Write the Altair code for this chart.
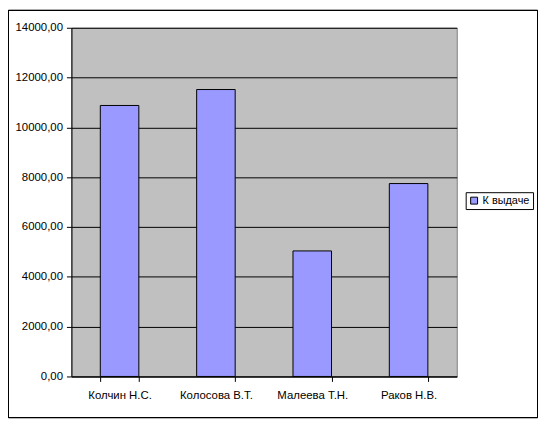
import altair as alt
import pandas as pd

names = ["Колчин Н.С.", "Колосова В.Т.", "Малеева Т.Н.", "Раков Н.В."]
values = [10880, 11520, 5040, 7745]
series = "К выдаче"

df = pd.DataFrame({"name": names, "value": values, "series": [series] * len(names)})

FONT = "Liberation Sans"
FS = 11.5

frame = alt.Chart(df).mark_rect(fill=None, stroke="black", strokeWidth=1, clip=False).encode(
    x=alt.value(-63.5), x2=alt.value(470.5), y=alt.value(-17.5), y2=alt.value(393.5)
)

bars = alt.Chart(df).mark_bar(stroke="black", strokeWidth=1).encode(
    x=alt.X("name:N", sort=names, title=None,
            scale=alt.Scale(paddingInner=0.6, paddingOuter=0.3),
            axis=alt.Axis(labelAngle=0, tickBand="extent", labelPadding=8, tickSize=5,
                          domainColor="black", tickColor="black", labelFont=FONT,
                          labelFontSize=FS, labelColor="black", grid=False)),
    y=alt.Y("value:Q", title=None,
            scale=alt.Scale(domain=[0, 14000], nice=False),
            axis=alt.Axis(values=list(range(0, 14001, 2000)),
                          labelExpr="replace(format(datum.value, '.2f'), '.', ',')",
                          tickSize=5, labelPadding=4, domainColor="black", tickColor="black",
                          gridColor="black", gridWidth=1, grid=True, labelFont=FONT,
                          labelFontSize=FS, labelColor="black")),
    color=alt.Color("series:N", scale=alt.Scale(range=["#9999FF"]),
                    legend=alt.Legend(title=None, orient="none", legendX=398, legendY=166,
                                      symbolType="square", symbolSize=49,
                                      symbolStrokeColor="black", symbolStrokeWidth=1,
                                      strokeColor="black", padding=3, labelOffset=3,
                                      labelFont=FONT, labelFontSize=11, labelColor="black")),
)

chart = alt.layer(frame, bars).properties(
    width=389, height=352,
    background="white",
    autosize=alt.AutoSizeParams(type="none"),
    padding={"left": 64, "top": 18, "right": 82, "bottom": 42},
).configure_view(fill="#C0C0C0", stroke="#808080", strokeWidth=1)

chart.save("out.html", embed_options={"renderer": "svg", "actions": False})
